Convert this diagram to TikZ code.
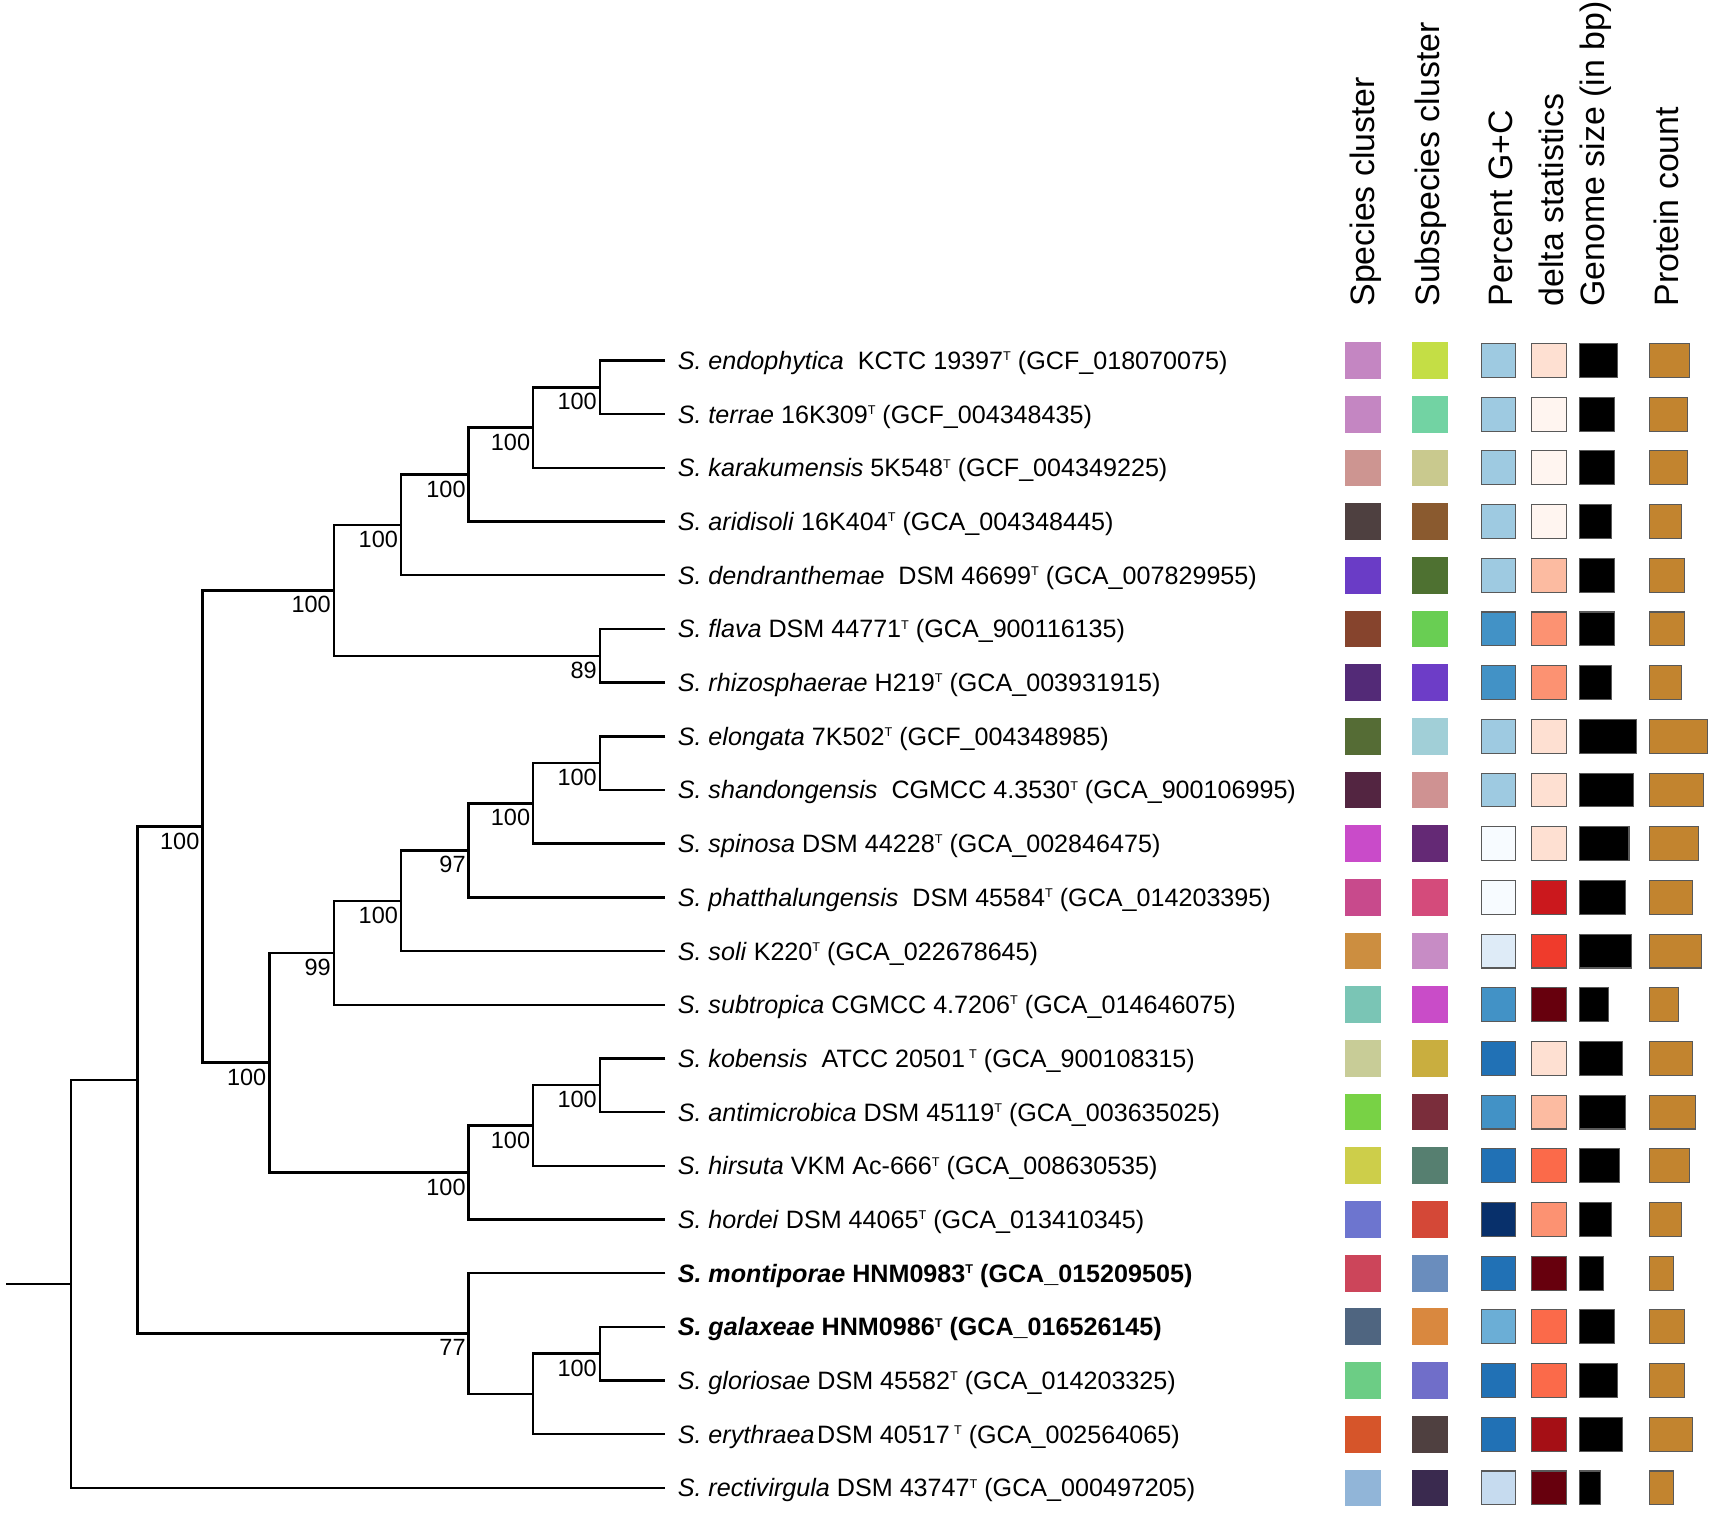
\documentclass[tikz,border=0pt]{standalone}
\usepackage{fontspec}
\setmainfont{Liberation Sans}
\usepackage{tikz}
\usetikzlibrary{positioning}

\definecolor{bl1}{HTML}{F7FBFF}
\definecolor{bl2}{HTML}{DEEBF7}
\definecolor{bl3}{HTML}{C6DBEF}
\definecolor{bl4}{HTML}{9ECAE1}
\definecolor{bl5}{HTML}{6BAED6}
\definecolor{bl6}{HTML}{4292C6}
\definecolor{bl7}{HTML}{2171B5}
\definecolor{bl9}{HTML}{08306B}
\definecolor{rd1}{HTML}{FFF5F0}
\definecolor{rd2}{HTML}{FEE0D2}
\definecolor{rd3}{HTML}{FCBBA1}
\definecolor{rd4}{HTML}{FC9272}
\definecolor{rd5}{HTML}{FB6A4A}
\definecolor{rd6}{HTML}{EF3B2C}
\definecolor{rd7}{HTML}{CB181D}
\definecolor{rd8}{HTML}{A50F15}
\definecolor{rd9}{HTML}{67000D}
\definecolor{protein}{HTML}{C2842F}

\newcommand{\typestr}{\raisebox{4pt}{\fontsize{5.8}{6}\selectfont T}}

% row, species, subspecies, G+C, delta, genome width, protein width
\newcommand{\heatrow}[7]{%
  \definecolor{spc}{HTML}{#2}%
  \definecolor{ssp}{HTML}{#3}%
  \node[clust, fill=spc] (sp#1) at (1247.6, {330+49.14*#1}) {};
  \node[clust, fill=ssp] (ss#1) at (1309, {330+49.14*#1}) {};
  \node[cell, fill=#4, minimum width=15.6pt] (gc#1) at (1371.8, {330+49.14*#1}) {};
  \node[cell, fill=#5, minimum width=16pt] (de#1) at (1418, {330+49.14*#1}) {};
  \node[bar, fill=black, minimum width=#6pt] (gs#1) at (1445.6, {330+49.14*#1}) {};
  \node[bar, fill=protein, minimum width=#7pt] (pc#1) at (1509.7, {330+49.14*#1}) {};
}

\begin{document}
\begin{tikzpicture}
  [
    x = 0.5pt, y = -0.5pt,
    branch/.style = {line width = 1.1pt},
    leaf/.style = {anchor = west, inner xsep = 5.5pt, inner ysep = 0pt,
                   text height = 8.2pt, text depth = 0pt,
                   font = \fontsize{11.5}{13}\selectfont},
    boot/.style = {inner sep = 0pt, font = \fontsize{10.75}{12}\selectfont},
    head/.style = {rotate = 90, anchor = base west, inner sep = 0pt,
                   font = \fontsize{15.5}{18}\selectfont},
    clust/.style = {inner sep = 0pt, minimum size = 16.8pt},
    cell/.style = {draw = black!65, line width = 0.5pt, inner sep = 0pt,
                   minimum height = 15.5pt},
    bar/.style = {cell, anchor = west},
  ]

  \useasboundingbox (0,0) rectangle (1568,1385);

  \node[head] (hsp) at (1258.2, 281) {Species cluster};
  \node[head] (hss) at (1317.7, 281) {Subspecies cluster};
  \node[head] (hgc) at (1384.6, 281) {Percent G+C};
  \node[head] (hde) at (1431, 281) {delta statistics};
  \node[head] (hgs) at (1468.7, 281) {Genome size (in bp)};
  \node[head] (hpc) at (1536.2, 281) {Protein count};

  \foreach \i/\txt in {
    0/{\textit{S. endophytica}~ KCTC 19397\typestr{} (GCF\_018070075)},
    1/{\textit{S. terrae} 16K309\typestr{} (GCF\_004348435)},
    2/{\textit{S. karakumensis} 5K548\typestr{} (GCF\_004349225)},
    3/{\textit{S. aridisoli} 16K404\typestr{} (GCA\_004348445)},
    4/{\textit{S. dendranthemae}~ DSM 46699\typestr{} (GCA\_007829955)},
    5/{\textit{S. flava} DSM 44771\typestr{} (GCA\_900116135)},
    6/{\textit{S. rhizosphaerae} H219\typestr{} (GCA\_003931915)},
    7/{\textit{S. elongata} 7K502\typestr{} (GCF\_004348985)},
    8/{\textit{S. shandongensis}~ CGMCC 4.3530\typestr{} (GCA\_900106995)},
    9/{\textit{S. spinosa} DSM 44228\typestr{} (GCA\_002846475)},
    10/{\textit{S. phatthalungensis}~ DSM 45584\typestr{} (GCA\_014203395)},
    11/{\textit{S. soli} K220\typestr{} (GCA\_022678645)},
    12/{\textit{S. subtropica} CGMCC 4.7206\typestr{} (GCA\_014646075)},
    13/{\textit{S. kobensis}~ ATCC 20501\,\typestr{} (GCA\_900108315)},
    14/{\textit{S. antimicrobica} DSM 45119\typestr{} (GCA\_003635025)},
    15/{\textit{S. hirsuta} VKM Ac-666\typestr{} (GCA\_008630535)},
    16/{\textit{S. hordei} DSM 44065\typestr{} (GCA\_013410345)},
    17/{\bfseries\textit{S. montiporae} HNM0983\typestr{} (GCA\_015209505)},
    18/{\bfseries\textit{S. galaxeae} HNM0986\typestr{} (GCA\_016526145)},
    19/{\textit{S. gloriosae} DSM 45582\typestr{} (GCA\_014203325)},
    20/{\textit{S. erythraea}\hspace{0.1em}DSM 40517\,\typestr{} (GCA\_002564065)},
    21/{\textit{S. rectivirgula} DSM 43747\typestr{} (GCA\_000497205)}}
    \node[leaf] (l\i) at (609, {330+49.14*\i}) {\txt};

  \coordinate (n1) at (549, 354.57);
  \coordinate (n2) at (488, 391.43);
  \coordinate (n3) at (429, 434.42);
  \coordinate (n4) at (367, 480.49);
  \coordinate (n5) at (549, 600.27);
  \coordinate (n6) at (305.5, 540.38);
  \coordinate (n7) at (549, 698.55);
  \coordinate (n8) at (488, 735.41);
  \coordinate (n9) at (429, 778.4);
  \coordinate (n10) at (367, 824.47);
  \coordinate (n11) at (305.5, 872.08);
  \coordinate (n12) at (549, 993.39);
  \coordinate (n13) at (488, 1030.25);
  \coordinate (n14) at (429, 1073.24);
  \coordinate (n15) at (246.5, 972.66);
  \coordinate (n16) at (185.3, 756.52);
  \coordinate (n17) at (549, 1239.09);
  \coordinate (n18) at (488, 1275.95);
  \coordinate (n19) at (429, 1220.67);
  \coordinate (n20) at (126, 988.6);
  \coordinate (n21) at (65, 1175.27);
  \coordinate (root) at (5.5, 1175.27);

  \draw[branch] (l0.west) -| (n1) |- (l1.west);
  \draw[branch] (n1) -| (n2) |- (l2.west);
  \draw[branch] (n2) -| (n3) |- (l3.west);
  \draw[branch] (n3) -| (n4) |- (l4.west);
  \draw[branch] (l5.west) -| (n5) |- (l6.west);
  \draw[branch] (n4) -| (n6) |- (n5);
  \draw[branch] (l7.west) -| (n7) |- (l8.west);
  \draw[branch] (n7) -| (n8) |- (l9.west);
  \draw[branch] (n8) -| (n9) |- (l10.west);
  \draw[branch] (n9) -| (n10) |- (l11.west);
  \draw[branch] (n10) -| (n11) |- (l12.west);
  \draw[branch] (l13.west) -| (n12) |- (l14.west);
  \draw[branch] (n12) -| (n13) |- (l15.west);
  \draw[branch] (n13) -| (n14) |- (l16.west);
  \draw[branch] (n11) -| (n15) |- (n14);
  \draw[branch] (n6) -| (n16) |- (n15);
  \draw[branch] (l18.west) -| (n17) |- (l19.west);
  \draw[branch] (n17) -| (n18) |- (l20.west);
  \draw[branch] (l17.west) -| (n19) |- (n18);
  \draw[branch] (n16) -| (n20) |- (n19);
  \draw[branch] (n20) -| (n21) |- (l21.west);
  \draw[branch] (root) -- (n21);

  \node[boot, below left = 2.6pt and 1.2pt of n1] (b1) {100};
  \node[boot, below left = 2.6pt and 1.2pt of n2] (b2) {100};
  \node[boot, below left = 2.6pt and 1.2pt of n3] (b3) {100};
  \node[boot, below left = 2.6pt and 1.2pt of n4] (b4) {100};
  \node[boot, below left = 2.6pt and 1.2pt of n5] (b5) {89};
  \node[boot, below left = 2.6pt and 1.2pt of n6] (b6) {100};
  \node[boot, below left = 2.6pt and 1.2pt of n7] (b7) {100};
  \node[boot, below left = 2.6pt and 1.2pt of n8] (b8) {100};
  \node[boot, below left = 2.6pt and 1.2pt of n9] (b9) {97};
  \node[boot, below left = 2.6pt and 1.2pt of n10] (b10) {100};
  \node[boot, below left = 2.6pt and 1.2pt of n11] (b11) {99};
  \node[boot, below left = 2.6pt and 1.2pt of n12] (b12) {100};
  \node[boot, below left = 2.6pt and 1.2pt of n13] (b13) {100};
  \node[boot, below left = 2.6pt and 1.2pt of n14] (b14) {100};
  \node[boot, below left = 2.6pt and 1.2pt of n15] (b15) {100};
  \node[boot, below left = 2.6pt and 1.2pt of n16] (b16) {100};
  \node[boot, below left = 2.6pt and 1.2pt of n17] (b17) {100};
  \node[boot, below left = 2.6pt and 1.2pt of n19] (b19) {77};

  \heatrow{0}{C486C2}{C4DE45}{bl4}{rd2}{17.1}{18.3}
  \heatrow{1}{C486C2}{72D3A3}{bl4}{rd1}{15.85}{17.1}
  \heatrow{2}{CD9591}{C9C98E}{bl4}{rd1}{15.85}{17.1}
  \heatrow{3}{4E4040}{8A5A2F}{bl4}{rd1}{14.5}{14.5}
  \heatrow{4}{6A3CC6}{4E7131}{bl4}{rd3}{15.85}{15.85}
  \heatrow{5}{86442D}{69CE53}{bl6}{rd4}{15.85}{15.85}
  \heatrow{6}{532A77}{6D3DC7}{bl6}{rd4}{14.5}{14.5}
  \heatrow{7}{556C35}{A1CFD7}{bl4}{rd2}{26}{26.25}
  \heatrow{8}{532541}{CF9292}{bl4}{rd2}{24.7}{24.7}
  \heatrow{9}{C94BC9}{642975}{bl1}{rd2}{22.5}{22.1}
  \heatrow{10}{C84A8C}{D44B7B}{bl1}{rd7}{20.9}{19.7}
  \heatrow{11}{CC8E40}{C78CC5}{bl2}{rd6}{23.5}{23.5}
  \heatrow{12}{7AC5B5}{C94CC8}{bl6}{rd9}{13.25}{13.25}
  \heatrow{13}{C8CC97}{C9AE3F}{bl7}{rd2}{19.5}{19.7}
  \heatrow{14}{78D245}{7A2D3B}{bl6}{rd3}{20.9}{20.9}
  \heatrow{15}{CDCE4A}{567F70}{bl7}{rd5}{18.3}{18.3}
  \heatrow{16}{6D75CF}{D44837}{bl9}{rd4}{14.5}{14.5}
  \heatrow{17}{CC455A}{6A8DBD}{bl7}{rd9}{10.7}{10.7}
  \heatrow{18}{4F6580}{D9883F}{bl5}{rd5}{15.85}{15.85}
  \heatrow{19}{6CCD85}{706EC9}{bl7}{rd5}{17.1}{15.85}
  \heatrow{20}{D6552A}{4F4040}{bl7}{rd8}{19.5}{19.7}
  \heatrow{21}{91B5D8}{3A2A4F}{bl3}{rd9}{9.5}{10.7}

\end{tikzpicture}
\end{document}
